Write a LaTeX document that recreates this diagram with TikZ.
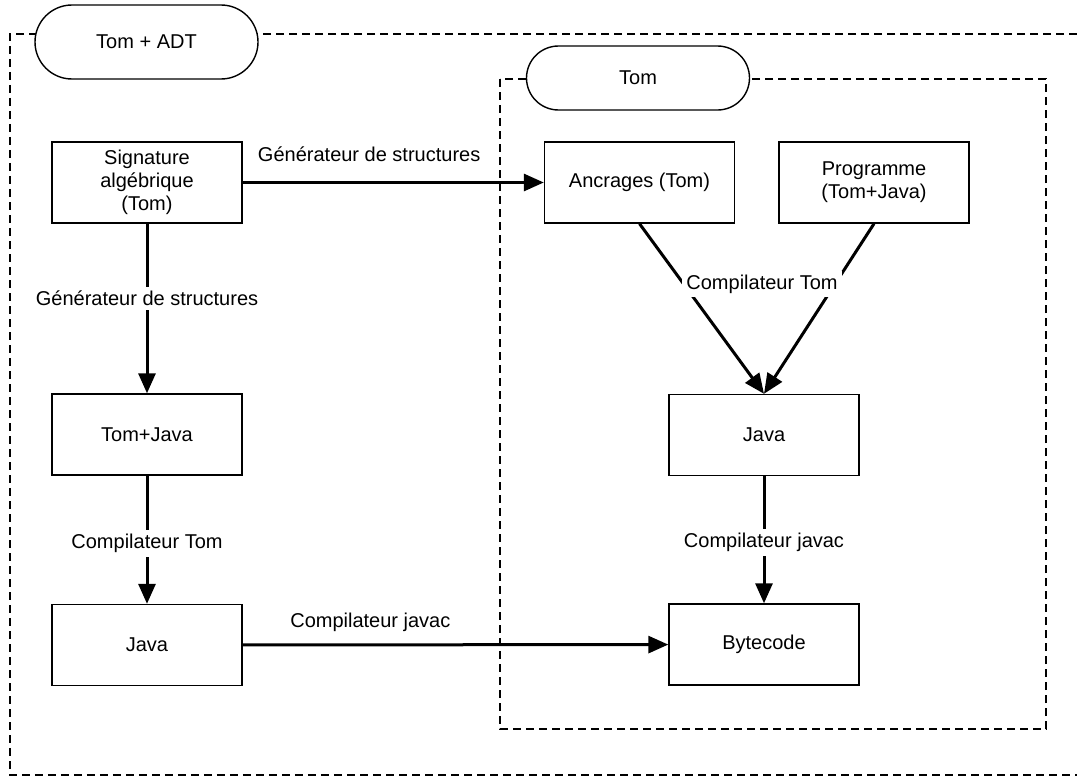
\documentclass[tikz,border=0pt]{standalone}
\usepackage{fontspec}
\setmainfont{Liberation Sans}
\usetikzlibrary{arrows.meta,shapes.misc}

\begin{document}
\begin{tikzpicture}
  [
    x=0.5pt, y=-0.5pt,
    >={Triangle[length=10pt,width=8.5pt]},
    font=\fontsize{10}{11.5}\selectfont,
    block/.style = {draw, line width=0.7pt, minimum width=95pt, minimum height=40.5pt, align=center, inner sep=0pt},
    pill/.style  = {draw, fill=white, line width=0.7pt, rounded rectangle, minimum width=111.5pt, inner sep=0pt},
    frame/.style = {line width=0.6pt, dash pattern=on 4pt off 2.5pt},
    flow/.style  = {->, line width=1.5pt},
    lab/.style   = {fill=white, inner sep=2pt},
  ]

 \useasboundingbox (0,0) rectangle (1077,776);

 % cadres
 \draw[frame] (1090,34) -- (10,34) -- (10,775) -- (1090,775);
 \draw[frame] (500,79) rectangle (1046,729);
 \node [pill, minimum height=37pt] (adt) at (146.5,42) {Tom + ADT};
 \node [pill, minimum height=32pt] (tom) at (638,78) {Tom};

 \node [block] (sig)   at (147,182.5) {Signature\\algébrique\\(Tom)};
 \node [block] (anc)   at (639.5,182.5) {Ancrages (Tom)};
 \node [block] (prog)  at (874,182.5) {Programme\\(Tom+Java)};
 \node [block] (tj)    at (147,434.5) {Tom+Java};
 \node [block] (javaA) at (147,645) {Java};
 \node [block] (javaB) at (764,435) {Java};
 \node [block] (byte)  at (764,644.5) {Bytecode};

  \path[flow]
     (sig)   edge node[pos=0.42, yshift=14pt] {Générateur de structures} (anc)
     (sig)   edge node[lab, pos=0.44] {Générateur de structures} (tj)
     (tj)    edge node[lab, pos=0.53] {Compilateur Tom} (javaA)
     (javaA) edge node[pos=0.30, yshift=11pt] {Compilateur javac} (byte)
     (javaB) edge node[lab, pos=0.52] {Compilateur javac} (byte);

 % deux entrees du compilateur
 \draw[flow] (anc.south) -- (javaB.north);
 \draw[flow] (prog.south) -- (javaB.north);
 \node [lab] (ctom) at (762,284) {Compilateur Tom};

\end{tikzpicture}
\end{document}
